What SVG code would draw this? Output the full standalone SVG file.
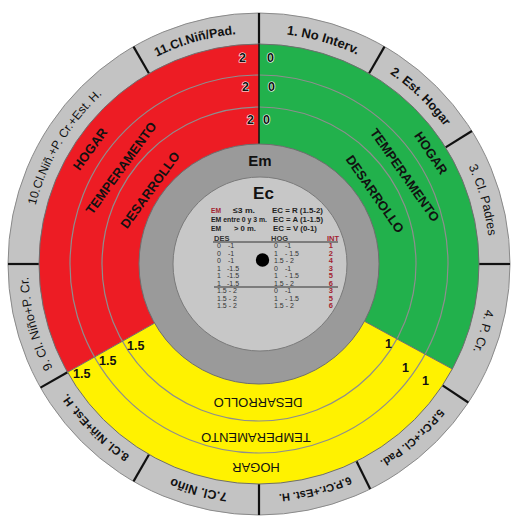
<svg xmlns="http://www.w3.org/2000/svg" xmlns:xlink="http://www.w3.org/1999/xlink" width="526" height="527" viewBox="0 0 526 527">
<style>
text{font-family:"Liberation Sans",Arial,sans-serif;fill:#111}
.ol{font-size:12.5px;font-weight:bold}
.oln{font-size:12.5px}
.div{stroke:#111;stroke-width:2.2}
.ring{fill:none;stroke:#8e8e8e;stroke-width:1.2}
.sl{font-size:13px;font-weight:bold;text-anchor:middle}
.yl{font-size:13px;text-anchor:middle}
.num{font-size:12.5px;font-weight:bold;stroke:#fff;stroke-width:1.2;paint-order:stroke}
.nb{font-size:12.5px;font-weight:bold}
.lg{font-size:8px;font-weight:bold;fill:#222}
.tb{font-size:7px;fill:#333}
.th{font-size:7.5px;font-weight:bold;fill:#333}
.red{fill:#a32330}
</style>
<defs>
<path id="lab" d="M490,264 A231,231 0 1 1 28,264 A231,231 0 1 1 490,264"/>
</defs>
<g id="outer-ring">
<circle cx="259" cy="264" r="251" fill="#c3c3c3" stroke="#8a8a8a" stroke-width="1"/>
<g id="dividers">
<line class="div" x1="479" y1="264" x2="510" y2="264"/>
<line class="div" x1="445.6" y1="147.4" x2="471.9" y2="131"/>
<line class="div" x1="369" y1="73.5" x2="384.5" y2="46.6"/>
<line class="div" x1="259" y1="44" x2="259" y2="13"/>
<line class="div" x1="149" y1="73.5" x2="133.5" y2="46.6"/>
<line class="div" x1="39" y1="264" x2="8" y2="264"/>
<line class="div" x1="67.5" y1="372.3" x2="40.5" y2="387.6"/>
<line class="div" x1="149" y1="454.5" x2="133.5" y2="481.4"/>
<line class="div" x1="259" y1="484" x2="259" y2="515"/>
<line class="div" x1="356.5" y1="461.2" x2="370.2" y2="488.9"/>
<line class="div" x1="442.5" y1="385.4" x2="468.3" y2="402.5"/>
</g>
<g id="outer-labels">
<text class="ol" text-anchor="middle" style="font-size:13px"><textPath xlink:href="#lab" startOffset="79.44%">1. No Interv.</textPath></text>
<text class="ol" text-anchor="middle"><textPath xlink:href="#lab" startOffset="87.22%">2. Est. Hogar</textPath></text>
<text class="oln" text-anchor="middle"><textPath xlink:href="#lab" startOffset="95.56%">3. Cl. Padres</textPath></text>
<text class="oln" text-anchor="middle"><textPath xlink:href="#lab" startOffset="4.64%">4. P. Cr.</textPath></text>
<text class="ol" text-anchor="middle" style="font-size:11px"><textPath xlink:href="#lab" startOffset="13.5%">5.P.Cr.+Cl. Pad.</textPath></text>
<text class="ol" text-anchor="middle" style="font-size:11px"><textPath xlink:href="#lab" startOffset="21.11%">6.P.Cr.+Est. H.</textPath></text>
<text class="ol" text-anchor="middle"><textPath xlink:href="#lab" startOffset="29.17%">7.Cl. Niño</textPath></text>
<text class="ol" text-anchor="middle" style="font-size:11.5px"><textPath xlink:href="#lab" startOffset="37.5%">8.Cl. Niñ+Est. H.</textPath></text>
<text class="oln" text-anchor="middle"><textPath xlink:href="#lab" startOffset="45.83%">9. Cl. Niño+P. Cr.</textPath></text>
<text class="oln" text-anchor="middle" style="font-size:12px"><textPath xlink:href="#lab" startOffset="58.6%">10.Cl.Niñ.+P. Cr.+Est. H.</textPath></text>
<text class="ol" text-anchor="middle"><textPath xlink:href="#lab" startOffset="70.56%">11.Cl.Niñ/Pad.</textPath></text>
</g>
</g>
<g id="sectors">
<path id="red" d="M259,264 L67.5,372.3 A220,220 0 0 1 259,44 Z" fill="#ed1c24"/>
<path id="green" d="M259,264 L259,44 A220,220 0 0 1 452.3,369 Z" fill="#22b14c"/>
<path id="yellow" d="M259,264 L452.3,369 A220,220 0 0 1 67.5,372.3 Z" fill="#fff200"/>
<circle cx="259" cy="264" r="220" fill="none" stroke="#6e6e6e" stroke-width="1"/>
<circle class="ring" cx="259" cy="264" r="189"/>
<circle class="ring" cx="259" cy="264" r="157"/>
<line x1="154.6" y1="323.1" x2="67.5" y2="372.3" stroke="#6e6e6e" stroke-width="1"/>
<line x1="364.5" y1="321.3" x2="452.3" y2="369" stroke="#6e6e6e" stroke-width="1"/>
<line x1="259" y1="144" x2="259" y2="44" stroke="#111" stroke-width="1.5"/>
</g>
<g id="sector-labels">
<text class="sl" transform="translate(90,149) rotate(-54)" y="4.6">HOGAR</text>
<text class="sl" transform="translate(121,168) rotate(-54)" y="4.6">TEMPERAMENTO</text>
<text class="sl" transform="translate(150,190) rotate(-54)" y="4.6">DESARROLLO</text>
<text class="sl" transform="translate(431,153) rotate(56)" y="4.6">HOGAR</text>
<text class="sl" transform="translate(405,175) rotate(55)" y="4.6">TEMPERAMENTO</text>
<text class="sl" transform="translate(375,194) rotate(55)" y="4.6">DESARROLLO</text>
<text class="yl" transform="translate(258,403) rotate(180)" y="4.6">DESARROLLO</text>
<text class="yl" transform="translate(256,437.5) rotate(180)" y="4.6">TEMPERAMENTO</text>
<text class="yl" transform="translate(256,468) rotate(180)" y="4.6">HOGAR</text>
</g>
<g id="values">
<text class="num" x="246" y="62" text-anchor="end">2</text>
<text class="num" x="249" y="91" text-anchor="end">2</text>
<text class="num" x="254" y="124" text-anchor="end">2</text>
<text class="num" x="267" y="62">0</text>
<text class="num" x="268" y="91">0</text>
<text class="num" x="263" y="124">0</text>
<text class="nb" x="73" y="378">1.5</text>
<text class="nb" x="99" y="365">1.5</text>
<text class="nb" x="127" y="350">1.5</text>
<text class="nb" x="385" y="348">1</text>
<text class="nb" x="402" y="372">1</text>
<text class="nb" x="422" y="385">1</text>
</g>
<g id="center">
<circle cx="259" cy="264" r="120" fill="#9a9a9a" stroke="#6e6e6e" stroke-width="1"/>
<circle cx="260" cy="264" r="87" fill="#c7c7c7" stroke="#7a7a7a" stroke-width="1"/>
<text x="260" y="166" text-anchor="middle" style="font-size:15px;font-weight:bold">Em</text>
<text x="263.5" y="199" text-anchor="middle" style="font-size:17px;font-weight:bold">Ec</text>
<text class="lg red" x="211" y="213" textLength="10" lengthAdjust="spacingAndGlyphs">EM</text>
<text class="lg" x="233" y="213" textLength="22" lengthAdjust="spacingAndGlyphs">≤3 m.</text>
<text class="lg" x="272" y="213" textLength="51" lengthAdjust="spacingAndGlyphs">EC = R (1.5-2)</text>
<text class="lg" x="211" y="222" textLength="56" lengthAdjust="spacingAndGlyphs">EM entre 0 y 3 m.</text>
<text class="lg" x="273" y="222" textLength="50" lengthAdjust="spacingAndGlyphs">EC = A (1-1.5)</text>
<text class="lg" x="211" y="230.5" textLength="10" lengthAdjust="spacingAndGlyphs">EM</text>
<text class="lg" x="234" y="230.5" textLength="22" lengthAdjust="spacingAndGlyphs">&gt; 0 m.</text>
<text class="lg" x="273" y="230.5" textLength="44" lengthAdjust="spacingAndGlyphs">EC = V (0-1)</text>
<text class="th" x="214" y="240.5">DES</text>
<text class="th" x="271" y="240.5">HOG</text>
<text class="th red" x="327" y="240.5">INT</text>
<line x1="213" y1="242" x2="338" y2="242" stroke="#333" stroke-width="1"/>
<line x1="214" y1="287" x2="338" y2="287" stroke="#333" stroke-width="1.2"/>
<g class="des">
<text class="tb" x="217" y="248.3">0</text><text class="tb" x="228" y="248.3">-1</text>
<text class="tb" x="217" y="255.8">0</text><text class="tb" x="228" y="255.8">-1</text>
<text class="tb" x="217" y="263.3">0</text><text class="tb" x="228" y="263.3">-1</text>
<text class="tb" x="217" y="270.8">1</text><text class="tb" x="227" y="270.8">-1.5</text>
<text class="tb" x="217" y="278.3">1</text><text class="tb" x="227" y="278.3">-1.5</text>
<text class="tb" x="217" y="285.8">1</text><text class="tb" x="227" y="285.8">-1.5</text>
<text class="tb" x="217" y="293.3">1.5 - 2</text>
<text class="tb" x="217" y="300.8">1.5 - 2</text>
<text class="tb" x="217" y="308.3">1.5 - 2</text>
</g>
<g class="hog">
<text class="tb" x="274" y="248.3">0</text><text class="tb" x="285" y="248.3">-1</text>
<text class="tb" x="274" y="255.8">1</text><text class="tb" x="285" y="255.8">- 1.5</text>
<text class="tb" x="274" y="263.3">1.5 - 2</text>
<text class="tb" x="274" y="270.8">0</text><text class="tb" x="285" y="270.8">-1</text>
<text class="tb" x="274" y="278.3">1</text><text class="tb" x="285" y="278.3">- 1.5</text>
<text class="tb" x="274" y="285.8">1.5 - 2</text>
<text class="tb" x="274" y="293.3">0</text><text class="tb" x="285" y="293.3">-1</text>
<text class="tb" x="274" y="300.8">1</text><text class="tb" x="285" y="300.8">- 1.5</text>
<text class="tb" x="274" y="308.3">1.5 - 2</text>
</g>
<g class="int" text-anchor="end">
<text class="th red" x="333" y="248.3">1</text>
<text class="th red" x="333" y="255.8">2</text>
<text class="th red" x="333" y="263.3">4</text>
<text class="th red" x="333" y="270.8">3</text>
<text class="th red" x="333" y="278.3">5</text>
<text class="th red" x="333" y="285.8">6</text>
<text class="th red" x="333" y="293.3">3</text>
<text class="th red" x="333" y="300.8">5</text>
<text class="th red" x="333" y="308.3">6</text>
</g>
<circle cx="262.5" cy="260" r="6.7" fill="#000"/>
</g>
</svg>
